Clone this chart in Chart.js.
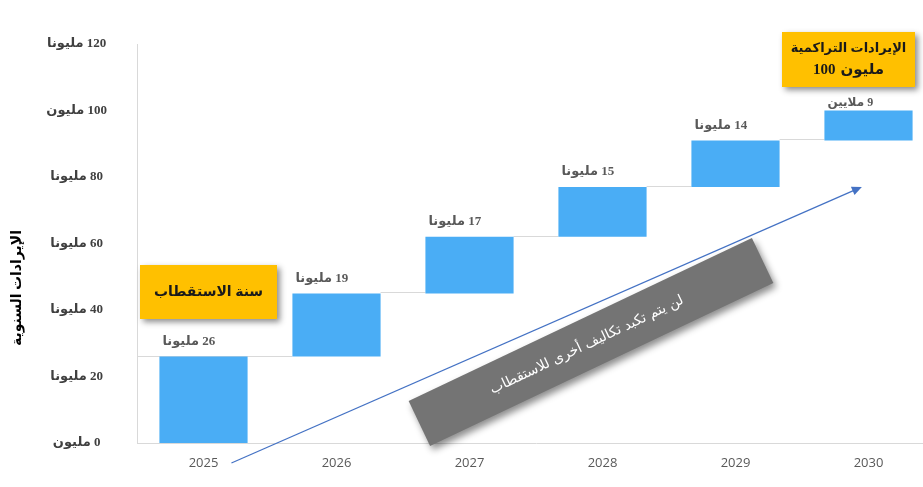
<!DOCTYPE html>
<html>
<head>
<meta charset="utf-8">
<script src="https://cdn.jsdelivr.net/npm/chart.js@4.4.1/dist/chart.umd.min.js"></script>
<style>
  html, body { margin: 0; padding: 0; background: #fff; overflow: hidden; }
  #wrap { width: 935px; height: 487px; }
</style>
</head>
<body>
<div id="wrap"><canvas id="chart" width="935" height="487" dir="rtl"></canvas></div>
<script>
// waterfall: yearly revenue added on top of the previous total
const years = ['2025', '2026', '2027', '2028', '2029', '2030'];
const increments = [26, 19, 17, 15, 14, 9];
const barLabels = ['26 مليونا', '19 مليونا', '17 مليونا', '15 مليونا', '14 مليونا', '9 ملايين'];
const yTickLabels = ['0 مليون', '20 مليونا', '40 مليونا', '60 مليونا', '80 مليونا', '100 مليون', '120 مليونا'];
const yTitle = 'الإيرادات السنوية';
const startNote = ['سنة الاستقطاب'];
const totalNote = ['الإيرادات التراكمية', '100 مليون'];
const arrowNote = 'لن يتم تكبد تكاليف أخرى للاستقطاب';

// floating bars [start, end]
const ranges = [];
let total = 0;
increments.forEach(v => { ranges.push([total, total + v]); total += v; });

const serifBold = "bold 13px 'Liberation Serif', 'DejaVu Sans', serif";

function yellowBox(ctx, x, y, w, h, lines, size) {
  ctx.save();
  ctx.shadowColor = 'rgba(0,0,0,0.45)';
  ctx.shadowBlur = 6;
  ctx.shadowOffsetX = 3;
  ctx.shadowOffsetY = 3;
  ctx.fillStyle = '#ffc000';
  ctx.fillRect(x, y, w, h);
  ctx.restore();
  ctx.save();
  ctx.fillStyle = '#1a1a1a';
  ctx.textBaseline = 'middle';
  const lh = 21;
  const cx = x + w / 2;
  const y0 = y + h / 2 - (lines.length - 1) * lh / 2;
  lines.forEach((t, i) => {
    const ty = y0 + i * lh;
    if (/^\d/.test(t)) {
      // number on the left, word on the right
      ctx.font = 'bold ' + (size + 2) + "px 'Liberation Serif', 'DejaVu Sans', serif";
      const sp = t.indexOf(' ');
      const num = t.slice(0, sp), word = t.slice(sp + 1);
      const wn = ctx.measureText(num).width, ww = ctx.measureText(word).width, gap = 5;
      const sx = cx - (wn + gap + ww) / 2;
      ctx.textAlign = 'left';
      ctx.fillText(num, sx, ty);
      ctx.fillText(word, sx + wn + gap, ty);
    } else {
      ctx.font = 'bold ' + size + "px 'Liberation Serif', 'DejaVu Sans', serif";
      ctx.textAlign = 'center';
      ctx.fillText(t, cx, ty);
    }
  });
  ctx.restore();
}

const extras = {
  id: 'extras',
  beforeDraw(chart) {
    chart.ctx.direction = 'rtl';
  },
  beforeDatasetsDraw(chart) {
    // connector lines between the floating bars
    const ctx = chart.ctx;
    const yS = chart.scales.y;
    const bars = chart.getDatasetMeta(0).data;
    ctx.save();
    ctx.strokeStyle = '#d9d9d9';
    ctx.lineWidth = 1;
    for (let i = 0; i < bars.length - 1; i++) {
      const y = Math.round(yS.getPixelForValue(ranges[i][1])) - 0.5;
      const x1 = i === 0 ? chart.chartArea.left : bars[i].x + bars[i].width / 2;
      const x2 = bars[i + 1].x - bars[i + 1].width / 2;
      ctx.beginPath();
      ctx.moveTo(x1, y);
      ctx.lineTo(x2, y);
      ctx.stroke();
    }
    ctx.restore();
  },
  afterDraw(chart) {
    const ctx = chart.ctx;
    const xS = chart.scales.x;
    const yS = chart.scales.y;
    const bars = chart.getDatasetMeta(0).data;

    // value labels above bars
    ctx.save();
    ctx.fillStyle = '#595959';
    ctx.textBaseline = 'middle';
    ctx.textAlign = 'left';
    bars.forEach((b, i) => {
      const last = i === bars.length - 1;
      ctx.font = last ? "bold 12px 'Liberation Serif', 'DejaVu Sans', serif" : serifBold;
      ctx.fillText(barLabels[i], b.x - b.width / 2 + 3, b.y - (last ? 8 : 15));
    });
    ctx.restore();

    // y axis title
    ctx.save();
    ctx.translate(17, 288);
    ctx.rotate(-Math.PI / 2);
    ctx.font = "bold 14px 'Liberation Serif', 'DejaVu Sans', serif";
    ctx.fillStyle = '#000';
    ctx.textAlign = 'center';
    ctx.textBaseline = 'middle';
    ctx.fillText(yTitle, 0, 0);
    ctx.restore();

    // trend arrow
    const ax1 = xS.getPixelForValue(0.21), ay1 = yS.getPixelForValue(-6);
    const ax2 = xS.getPixelForValue(4.95), ay2 = yS.getPixelForValue(77);
    const ang = Math.atan2(ay2 - ay1, ax2 - ax1);
    ctx.save();
    ctx.strokeStyle = '#4472c4';
    ctx.fillStyle = '#4472c4';
    ctx.lineWidth = 1.25;
    ctx.beginPath();
    ctx.moveTo(ax1, ay1);
    ctx.lineTo(ax2 - 8 * Math.cos(ang), ay2 - 8 * Math.sin(ang));
    ctx.stroke();
    ctx.translate(ax2, ay2);
    ctx.rotate(ang);
    ctx.beginPath();
    ctx.moveTo(0, 0);
    ctx.lineTo(-10, -4.5);
    ctx.lineTo(-10, 4.5);
    ctx.closePath();
    ctx.fill();
    ctx.restore();

    // grey rotated note along the arrow
    ctx.save();
    ctx.translate(591, 342);
    ctx.rotate(-25.4 * Math.PI / 180);
    ctx.save();
    ctx.shadowColor = 'rgba(0,0,0,0.45)';
    ctx.shadowBlur = 7;
    ctx.shadowOffsetX = 3;
    ctx.shadowOffsetY = 4;
    ctx.fillStyle = '#747474';
    ctx.fillRect(-190, -25, 380, 50);
    ctx.restore();
    ctx.fillStyle = '#ffffff';
    ctx.font = "14px 'DejaVu Sans', sans-serif";
    ctx.textAlign = 'center';
    ctx.textBaseline = 'middle';
    ctx.fillText(arrowNote, -5, 1);
    ctx.restore();

    // yellow notes
    yellowBox(ctx, 140, 265, 137, 54, startNote, 14);
    yellowBox(ctx, 782, 32, 133, 55, totalNote, 13);
  }
};

new Chart(document.getElementById('chart'), {
  type: 'bar',
  data: {
    labels: years,
    datasets: [{
      data: ranges,
      backgroundColor: '#4aadf5',
      borderWidth: 0,
      borderSkipped: false,
      barPercentage: 0.663,
      categoryPercentage: 1
    }]
  },
  options: {
    responsive: false,
    animation: false,
    devicePixelRatio: 1,
    layout: { padding: { top: 44, left: 0, right: 0, bottom: 0 } },
    plugins: { legend: { display: false }, tooltip: { enabled: false } },
    scales: {
      x: {
        grid: { display: false, drawTicks: false },
        border: { display: true, color: '#d9d9d9', width: 1 },
        ticks: { color: '#595959', font: { family: "'Open Sans', 'DejaVu Sans', sans-serif", size: 13 }, padding: 12 },
        afterFit: s => { s.height = 44; }
      },
      y: {
        min: 0,
        max: 120,
        grid: { display: false, drawTicks: false },
        border: { display: true, color: '#d9d9d9', width: 1 },
        ticks: {
          stepSize: 20,
          crossAlign: 'center',
          padding: 30,
          color: '#404040',
          font: { family: "'Liberation Serif', 'DejaVu Sans', serif", size: 13, weight: 'bold' },
          callback: (v, i) => yTickLabels[i]
        },
        afterFit: s => { s.width = 137; }
      }
    }
  },
  plugins: [extras]
});
</script>
</body>
</html>
